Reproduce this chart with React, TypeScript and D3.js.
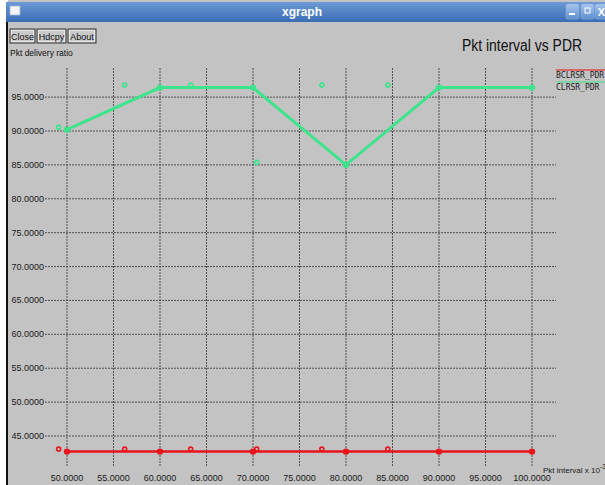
import React from "react";
import * as d3 from "d3";

// Packet interval (x 10^-3) and delivery ratio for the two protocols
const intervals = [50, 60, 70, 80, 90, 100];
const clrsrPdr = [90.2, 96.4, 96.4, 85.0, 96.4, 96.4];
const bclrsrPdr = [42.7, 42.7, 42.7, 42.7, 42.7, 42.7];
// xgraph also drops a small point glyph for each value at these x positions
const glyphIntervals = [49.1, 56.2, 63.3, 70.4, 77.4, 84.5];

const xTicks = [50, 55, 60, 65, 70, 75, 80, 85, 90, 95, 100];
const yTicks = [45, 50, 55, 60, 65, 70, 75, 80, 85, 90, 95];

const seriesNames = ["BCLRSR_PDR", "CLRSR_PDR"];
const seriesColors = ["#e8141b", "#3de48c"];

const W = 605;
const H = 485;

export default function App() {
  const x = d3.scaleLinear().domain([50, 100]).range([67, 532]);
  const y = d3.scaleLinear().domain([45, 90]).range([436, 131]);
  const plotTop = 68;
  const plotBottom = 467;
  const gridLeft = 45;
  const gridRight = 556;

  const line = d3
    .line<[number, number]>()
    .x((d) => x(d[0]))
    .y((d) => y(d[1]));

  const series = [bclrsrPdr, clrsrPdr];
  const sans = "'Liberation Sans', Arial, sans-serif";
  const mono = "'DejaVu Sans Mono', monospace";

  const buttons = [
    { label: "Close", x0: 10, w: 25 },
    { label: "Hdcpy", x0: 37, w: 29 },
    { label: "About", x0: 68, w: 28 },
  ];

  return (
    <svg
      width={W}
      height={H}
      style={{ position: "absolute", left: 0, top: 0, display: "block" }}
    >
      <defs>
        <linearGradient id="titlebar" x1="0" y1="0" x2="0" y2="1">
          <stop offset="0" stopColor="#6d9ad6" />
          <stop offset="1" stopColor="#3b6db5" />
        </linearGradient>
        <linearGradient id="winbtn" x1="0" y1="0" x2="0" y2="1">
          <stop offset="0" stopColor="#a9c6ec" />
          <stop offset="1" stopColor="#5f8fd0" />
        </linearGradient>
      </defs>
      <rect x={0} y={0} width={W} height={H} fill="#ffffff" />
      {/* window body */}
      <rect x={8} y={0} width={W - 8} height={H} fill="#c3c3c3" />
      <rect x={6} y={20} width={2} height={H - 20} fill="#111" />
      {/* title bar */}
      <rect x={6} y={2} width={W - 6} height={20} fill="url(#titlebar)" />
      <rect x={10} y={6} width={10} height={9} fill="#f4f4f4" stroke="#9db4d6" strokeWidth={0.8} />
      <text
        x={302}
        y={16}
        textAnchor="middle"
        fontFamily={sans}
        fontWeight="bold"
        fontSize={12}
        fill="#ffffff"
      >
        xgraph
      </text>
      {[566, 581, 595].map((bx, i) => (
        <g key={bx}>
          <rect x={bx} y={4} width={13} height={15} rx={2} fill="url(#winbtn)" stroke="#8fb0dd" strokeWidth={0.6} />
          {i === 0 && <rect x={bx + 3} y={13} width={6} height={2} fill="#fff" />}
          {i === 1 && <rect x={bx + 4} y={8} width={5} height={5} fill="none" stroke="#fff" strokeWidth={1} />}
          {i === 2 && (
            <text x={bx + 6.5} y={16} textAnchor="middle" fontFamily={sans} fontWeight="bold" fontSize={11} fill="#fff">
              X
            </text>
          )}
        </g>
      ))}

      {/* button row */}
      {buttons.map((b) => (
        <g key={b.label}>
          <rect x={b.x0} y={29} width={b.w} height={14} fill="#c9c9c9" stroke="#333" strokeWidth={1} />
          <rect x={b.x0 + 1.5} y={30.5} width={b.w - 3} height={11} fill="none" stroke="#efefef" strokeWidth={0.8} />
          <text x={b.x0 + b.w / 2} y={40} textAnchor="middle" fontFamily={sans} fontSize={9} fill="#111">
            {b.label}
          </text>
        </g>
      ))}

      <text x={10} y={56} fontFamily={sans} fontSize={8.5} fill="#111">
        Pkt delivery ratio
      </text>
      <text
        x={462}
        y={51}
        fontFamily={sans}
        fontSize={16}
        fill="#111"
        textLength={120}
        lengthAdjust="spacingAndGlyphs"
      >
        Pkt interval vs PDR
      </text>

      {/* grid */}
      {yTicks.map((t) => (
        <g key={"y" + t}>
          <line
            x1={gridLeft}
            x2={gridRight}
            y1={y(t)}
            y2={y(t)}
            stroke="#444"
            strokeWidth={0.9}
            strokeDasharray="2,1"
          />
          <text x={44} y={y(t) + 3} textAnchor="end" fontFamily={sans} fontSize={9} fill="#1a1a1a">
            {t.toFixed(4)}
          </text>
        </g>
      ))}
      {xTicks.map((t) => (
        <g key={"x" + t}>
          <line
            x1={x(t)}
            x2={x(t)}
            y1={plotTop}
            y2={plotBottom}
            stroke="#444"
            strokeWidth={0.9}
            strokeDasharray="2,1"
          />
          <text x={x(t)} y={481} textAnchor="middle" fontFamily={sans} fontSize={9} fill="#1a1a1a">
            {t.toFixed(4)}
          </text>
        </g>
      ))}
      <text x={543} y={473} fontFamily={sans} fontSize={8} fill="#1a1a1a">
        Pkt interval x 10
        <tspan dy={-4} fontSize={7}>-3</tspan>
      </text>

      {/* series */}
      {series.map((vals, si) => {
        const pts = intervals.map((iv, i) => [iv, vals[i]] as [number, number]);
        const color = seriesColors[si];
        return (
          <g key={seriesNames[si]}>
            <path d={line(pts) || ""} fill="none" stroke={color} strokeWidth={si === 0 ? 2.5 : 3} />
            {pts.map((p, i) => (
              <circle key={i} cx={x(p[0])} cy={y(p[1])} r={3.2} fill={color} />
            ))}
            {glyphIntervals.map((g, i) => (
              <circle
                key={"g" + i}
                cx={x(g)}
                cy={y(vals[i]) - 2.5}
                r={2}
                fill="none"
                stroke={color}
                strokeWidth={1.6}
              />
            ))}
          </g>
        );
      })}

      {/* legend */}
      {seriesNames.map((name, i) => (
        <g key={name}>
          <line x1={556} x2={W} y1={70 + i * 12} y2={70 + i * 12} stroke={seriesColors[i]} strokeWidth={1.2} />
          <text x={556} y={78 + i * 12} fontFamily={mono} fontSize={8} fill="#222">
            {name}
          </text>
        </g>
      ))}
    </svg>
  );
}
